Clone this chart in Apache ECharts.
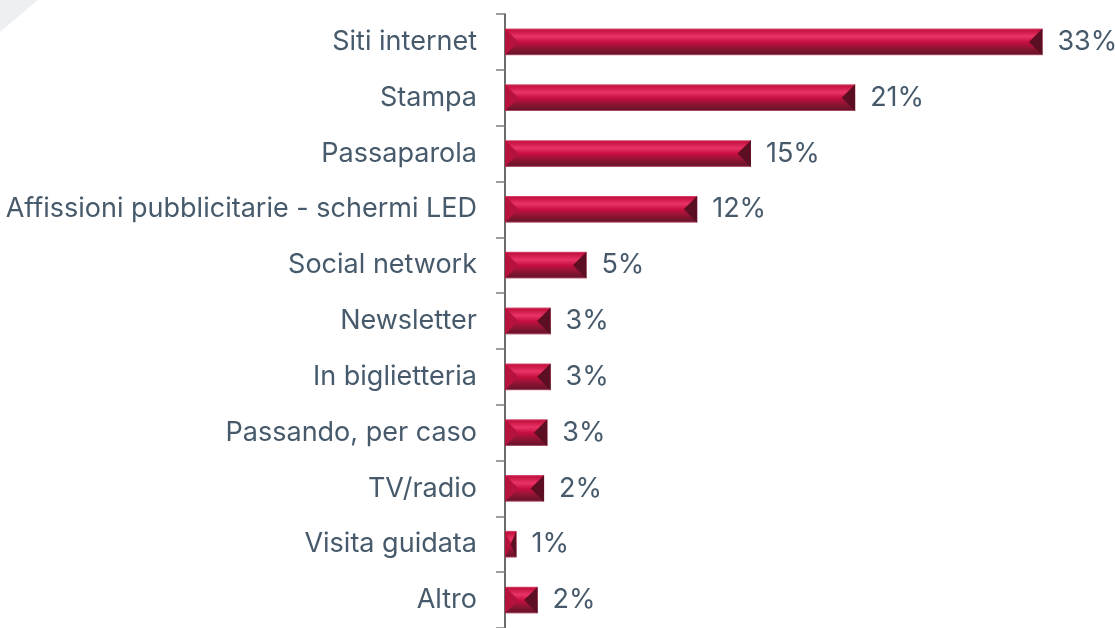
<!DOCTYPE html>
<html>
<head>
<meta charset="utf-8">
<script src="https://cdn.jsdelivr.net/npm/echarts@6/dist/echarts.min.js"></script>
<style>
  html, body { margin: 0; padding: 0; background: #fff; }
  #chart { width: 1115px; height: 628px; }
</style>
</head>
<body>
<div id="chart"></div>
<script>
// canali da cui il pubblico ha saputo dell'evento
var categories = ['Siti internet', 'Stampa', 'Passaparola', 'Affissioni pubblicitarie - schermi LED',
  'Social network', 'Newsletter', 'In biglietteria', 'Passando, per caso', 'TV/radio',
  'Visita guidata', 'Altro'];
var values = [33.0, 21.5, 15.1, 11.8, 5.0, 2.8, 2.8, 2.6, 2.4, 0.7, 2.0];
var valueLabels = ['33%', '21%', '15%', '12%', '5%', '3%', '3%', '3%', '2%', '1%', '2%'];

var textColor = '#475a6b';
var fontName = 'Inter, Roboto, sans-serif';

var faceGrad = new echarts.graphic.LinearGradient(0, 0, 0, 1, [
  { offset: 0, color: '#d8567a' },
  { offset: 0.06, color: '#c4113f' },
  { offset: 0.3, color: '#e93466' },
  { offset: 0.5, color: '#c80f40' },
  { offset: 0.75, color: '#8c1533' },
  { offset: 0.94, color: '#6b1329' },
  { offset: 1, color: '#c86a85' }
]);

function renderBar(params, api) {
  var idx = api.value(0);
  var v = api.value(1);
  var start = api.coord([0, idx]);
  var end = api.coord([v, idx]);
  var h = api.size([0, 1])[1] * 0.48;
  var x0 = start[0], x1 = end[0];
  var top = start[1] - h / 2, bot = start[1] + h / 2, mid = start[1];
  var b = Math.min(h / 2, (x1 - x0) / 2);
  return {
    type: 'group',
    children: [
      { type: 'rect', shape: { x: x0, y: top, width: x1 - x0, height: h }, style: { fill: faceGrad } },
      { type: 'polygon', shape: { points: [[x0, top], [x0 + b, mid], [x0, bot]] },
        style: { fill: '#b5123d', stroke: null } },
      { type: 'polygon', shape: { points: [[x1, top], [x1 - b, mid], [x1, bot]] },
        style: { fill: '#5c0e22', stroke: null } }
    ]
  };
}

var chart = echarts.init(document.getElementById('chart'));
chart.setOption({
  animation: false,
  graphic: [{
    type: 'polygon',
    shape: { points: [[0, 0], [38, 0], [0, 32]] },
    style: { fill: '#eeeff2' }
  }],
  grid: { left: 505, top: 14, right: 40, bottom: 0 },
  xAxis: {
    type: 'value', min: 0, max: 35, show: false
  },
  yAxis: {
    type: 'category',
    data: categories,
    inverse: true,
    axisLine: { show: true, lineStyle: { color: '#3a3a3a', width: 1.5 } },
    axisTick: { show: true, length: 9, lineStyle: { color: '#7f7f7f', width: 1.5 } },
    axisLabel: {
      margin: 28, color: textColor, fontSize: 27, fontFamily: fontName
    }
  },
  series: [{
    type: 'custom',
    renderItem: renderBar,
    encode: { x: 1, y: 0 },
    data: values.map(function (v, i) { return [i, v]; })
  }, {
    type: 'bar',
    data: values,
    barWidth: '48%',
    itemStyle: { color: 'rgba(0,0,0,0)' },
    silent: true,
    label: {
      show: true,
      position: 'right',
      distance: 15,
      color: textColor,
      fontSize: 27,
      fontFamily: fontName,
      formatter: function (p) { return valueLabels[p.dataIndex]; }
    }
  }]
});
</script>
</body>
</html>
